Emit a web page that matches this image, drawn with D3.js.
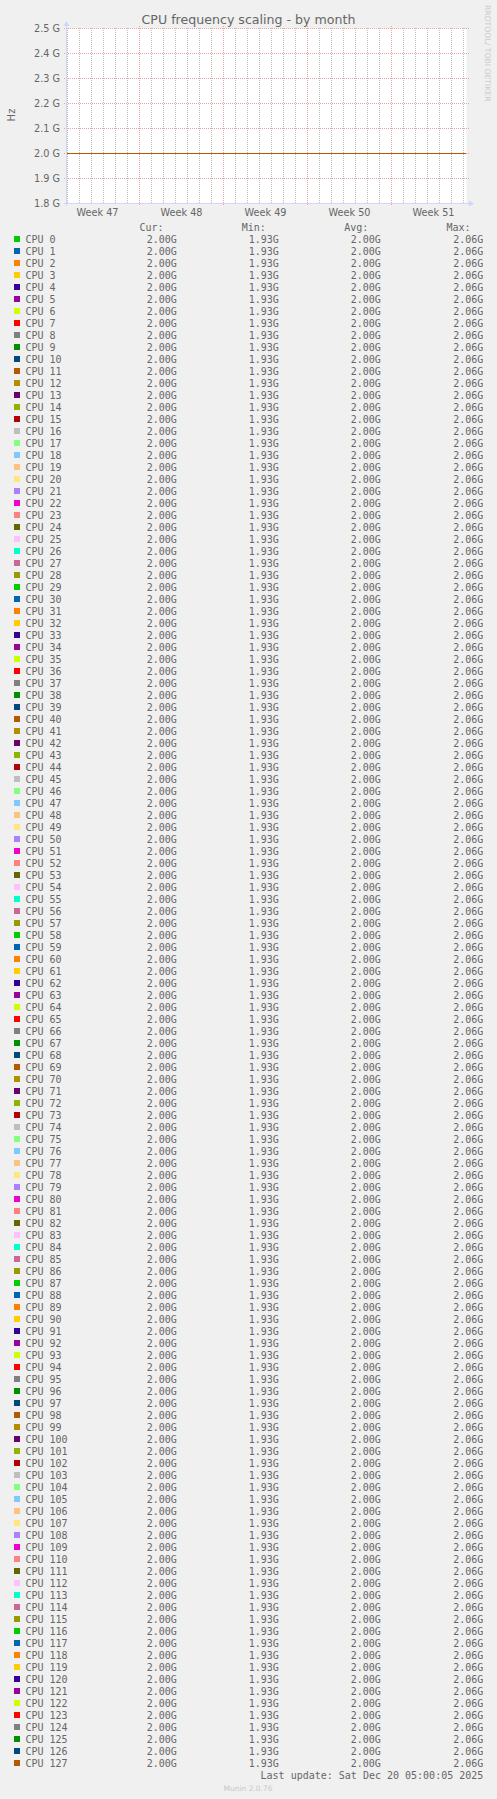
<!DOCTYPE html>
<html>
<head>
<meta charset="utf-8">
<script src="https://cdn.jsdelivr.net/npm/d3@7"></script>
<style>
  html, body { margin: 0; padding: 0; background: #f0f0f0; }
  svg { display: block; }
</style>
</head>
<body>
<script>
// ---------------- data ----------------
const cpuNames = d3.range(128).map(i => "CPU " + i);
const palette = ["#00CC00","#0066B3","#FF8000","#FFCC00","#330099","#990099","#CCFF00","#FF0000","#808080",
  "#008F00","#00487D","#B35A00","#B38F00","#6B006B","#8FB300","#B30000","#BEBEBE","#80FF80","#80C9FF",
  "#FFC080","#FFE680","#AA80FF","#EE00CC","#FF8080","#666600","#FFBFFF","#00FFCC","#CC6699","#999900"];
// frequency (Hz) over the month, identical for every CPU (flat line at 2.0 G)
const freqTimes = ["2025-11-16T22:00:00Z","2025-11-23T00:00:00Z","2025-11-30T00:00:00Z",
  "2025-12-07T00:00:00Z","2025-12-14T00:00:00Z","2025-12-20T05:00:00Z"];
const freqValues = [2.0e9, 2.0e9, 2.0e9, 2.0e9, 2.0e9, 2.0e9];
// legend statistics per CPU (Hz)
const statCur = Array(128).fill(2.00e9);
const statMin = Array(128).fill(1.93e9);
const statAvg = Array(128).fill(2.00e9);
const statMax = Array(128).fill(2.06e9);
const statHeaders = ["Cur:", "Min:", "Avg:", "Max:"];
const timeDomain = ["2025-11-16T22:00:00Z", "2025-12-20T06:00:00Z"];
const yDomain = [1.8e9, 2.5e9];
const titleText = "CPU frequency scaling - by month";
const yLabel = "Hz";
const lastUpdate = "Last update: Sat Dec 20 05:00:05 2025";
const watermark = "RRDTOOL/ TOBI OETIKER";
const footer = "Munin 2.0.76";

// ---------------- drawing ----------------
const W = 497, H = 1799;
const FONT = "#666666";
const sans = "'DejaVu Sans', Verdana, sans-serif";
const mono = "'DejaVu Sans Mono', monospace";

const svg = d3.select("body").append("svg").attr("width", W).attr("height", H);
svg.append("rect").attr("width", W).attr("height", H).attr("fill", "#f0f0f0");

const x = d3.scaleUtc().domain(timeDomain.map(d => new Date(d))).range([66.5, 466.5]);
const y = d3.scaleLinear().domain(yDomain).range([203.5, 28.5]);

// canvas
svg.append("rect").attr("x", 66.5).attr("y", 28.5).attr("width", 400).attr("height", 175).attr("fill", "#ffffff");

const grid = svg.append("g").attr("shape-rendering", "crispEdges");
const [t0, t1] = x.domain();

// minor vertical grid (days)
grid.selectAll("line.minor").data(d3.utcDay.range(d3.utcDay.ceil(t0), t1))
  .join("line").attr("class", "minor")
  .attr("x1", d => Math.floor(x(d)) + 0.5).attr("x2", d => Math.floor(x(d)) + 0.5)
  .attr("y1", 28).attr("y2", 203)
  .attr("stroke", "#bdbdbd").attr("stroke-dasharray", "1,1");

// major vertical grid (weeks, Sunday based)
const weeks = d3.utcSunday.range(d3.utcSunday.ceil(t0), t1);
grid.selectAll("line.major").data(weeks)
  .join("line").attr("class", "major")
  .attr("x1", d => Math.floor(x(d)) + 0.5).attr("x2", d => Math.floor(x(d)) + 0.5)
  .attr("y1", 26).attr("y2", 206)
  .attr("stroke", "#eda3a3").attr("stroke-dasharray", "1,1");

// horizontal grid
const yTicks = y.ticks(7);
grid.selectAll("line.h").data(yTicks)
  .join("line").attr("class", "h")
  .attr("x1", 64).attr("x2", 470)
  .attr("y1", d => Math.floor(y(d)) + 0.5).attr("y2", d => Math.floor(y(d)) + 0.5)
  .attr("stroke", "#eda3a3").attr("stroke-dasharray", "1,1");

// y tick labels
svg.append("g").selectAll("text").data(yTicks).join("text")
  .attr("x", 60).attr("y", d => y(d)).attr("dy", "0.36em")
  .attr("text-anchor", "end").attr("font-family", sans).attr("font-size", "9.7px").attr("fill", FONT)
  .text(d => d3.format(".1f")(d / 1e9) + " G");

// week labels (centered mid-week)
const labelWeeks = d3.utcSunday.range(d3.utcSunday.floor(t0), t1)
  .map(d => d3.utcHour.offset(d, 84))
  .filter(d => d >= t0 && d <= t1);
svg.append("g").selectAll("text").data(labelWeeks).join("text")
  .attr("x", d => x(d)).attr("y", 216)
  .attr("text-anchor", "middle").attr("font-family", sans).attr("font-size", "9.7px").attr("fill", FONT)
  .text(d => "Week " + d3.utcFormat("%V")(d));

// series lines
const series = freqTimes.map((t, i) => ({ t: new Date(t), v: freqValues[i] }));
const line = d3.line().x(d => x(d.t)).y(d => Math.floor(y(d.v)) + 0.5);
svg.append("g").selectAll("path").data(cpuNames).join("path")
  .attr("d", () => line(series))
  .attr("fill", "none")
  .attr("stroke", (d, i) => palette[i % palette.length])
  .attr("stroke-width", 1.2);

// axes with arrows
const AX = "#cfd6f8";
const axes = svg.append("g");
axes.append("line").attr("x1", 64).attr("x2", 470).attr("y1", 203.5).attr("y2", 203.5).attr("stroke", AX);
axes.append("path").attr("d", "M469,200.5 L474,203.5 L469,206.5 Z").attr("fill", AX);
axes.append("line").attr("x1", 66.5).attr("x2", 66.5).attr("y1", 206).attr("y2", 25).attr("stroke", AX);
axes.append("path").attr("d", "M63.5,26 L66.5,21 L69.5,26 Z").attr("fill", AX);

// title
svg.append("text").attr("x", 248.5).attr("y", 24)
  .attr("text-anchor", "middle").attr("font-family", sans).attr("font-size", "12.6px").attr("fill", FONT)
  .text(titleText);

// y label
svg.append("text").attr("transform", "translate(15,115) rotate(-90)")
  .attr("text-anchor", "middle").attr("font-family", sans).attr("font-size", "10px").attr("fill", FONT)
  .text(yLabel);

// watermark
svg.append("text").attr("transform", "translate(484.5,5) rotate(90)")
  .attr("text-anchor", "start").attr("font-family", sans).attr("font-size", "7.7px").attr("fill", "#cccccc")
  .text(watermark);

// legend
const legend = svg.append("g").attr("font-family", mono).attr("font-size", "10px").attr("fill", FONT);
const headerX = [139.5, 241.8, 344.2, 446.5];
legend.selectAll("text.hdr").data(statHeaders).join("text").attr("class", "hdr")
  .attr("x", (d, i) => headerX[i]).attr("y", 230.5).text(d => d);

const rowY = d3.scaleLinear().domain([0, 1]).range([242.5, 254.5]);
const valueX = [176.8, 278.8, 380.8, 483.3];
const fmtG = v => d3.format(".2f")(v / 1e9) + "G";
const rows = legend.selectAll("g.row").data(cpuNames).join("g").attr("class", "row");
rows.append("rect").attr("x", 14).attr("y", (d, i) => rowY(i) - 6.5).attr("width", 6).attr("height", 6)
  .attr("fill", (d, i) => palette[i % palette.length]);
rows.append("text").attr("x", 25.5).attr("y", (d, i) => rowY(i)).text(d => d);
[statCur, statMin, statAvg, statMax].forEach((arr, c) => {
  rows.append("text").attr("x", valueX[c]).attr("y", (d, i) => rowY(i))
    .attr("text-anchor", "end").text((d, i) => fmtG(arr[i]));
});

legend.append("text").attr("x", 483.3).attr("y", rowY(128)).attr("text-anchor", "end").text(lastUpdate);

svg.append("text").attr("x", 248).attr("y", 1791)
  .attr("text-anchor", "middle").attr("font-family", sans).attr("font-size", "7.5px").attr("fill", "#c8c8c8")
  .text(footer);
</script>
</body>
</html>
